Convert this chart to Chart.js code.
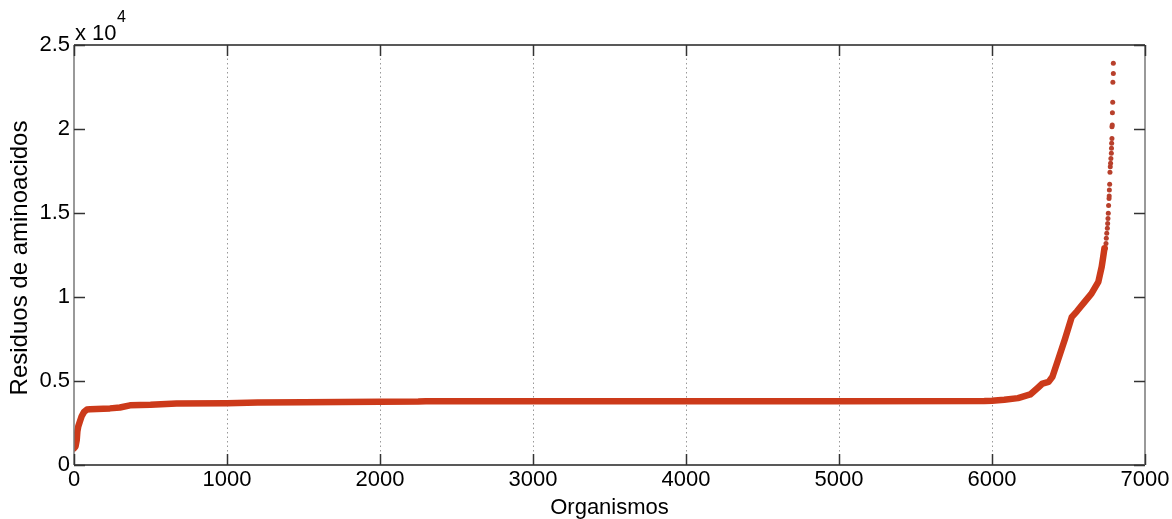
<!DOCTYPE html>
<html>
<head>
<meta charset="utf-8">
<title>Residuos de aminoacidos</title>
<script src="https://cdn.jsdelivr.net/npm/chart.js@4/dist/chart.umd.min.js"></script>
<style>
  html, body { margin: 0; padding: 0; background: #fff; }
  #wrap { width: 1172px; height: 519px; position: relative; }
</style>
</head>
<body>
<div id="wrap"><canvas id="cv"></canvas></div>
<script>
(function () {
  'use strict';

  // dense part of the sorted curve
  const orgX = [0, 10, 18, 22, 28, 39, 50, 65, 85, 105, 235, 300, 366, 500, 670, 1000, 1200, 1500, 2000, 2250, 2300,
    3000, 4000, 5000, 5950, 6000, 6080, 6170, 6250, 6300, 6330, 6370, 6395, 6430, 6477, 6521, 6555, 6600, 6650,
    6695, 6717, 6727, 6735];
  const resY = [1000, 1100, 1500, 2000, 2300, 2600, 2900, 3150, 3300, 3320, 3370, 3420, 3550, 3580, 3660, 3680, 3720,
    3730, 3760, 3780, 3800, 3800, 3800, 3800, 3810, 3830, 3880, 3980, 4200, 4600, 4850, 4950, 5250, 6200, 7500, 8800,
    9150, 9650, 10200, 10900, 11800, 12400, 12900];

  // sparse markers at the top end
  const topX = [6741, 6745, 6747, 6750, 6754, 6756, 6758, 6760, 6762, 6765, 6766, 6767, 6769, 6771, 6773, 6775, 6777,
    6780, 6781, 6782, 6784, 6784, 6786, 6787, 6789, 6790, 6793, 6793];
  const topY = [12900, 13190, 13490, 13790, 14090, 14380, 14680, 14980, 15440, 15870, 16010, 16370, 16710, 17420, 17760,
    17960, 18250, 18550, 18850, 19150, 19440, 20140, 20240, 20970, 21590, 22780, 23310, 23910];

  const xTicks = [0, 1000, 2000, 3000, 4000, 5000, 6000, 7000];
  const yTicks = [0, 5000, 10000, 15000, 20000, 25000];

  const FONT = 'Liberation Sans, Arial, sans-serif';
  const RED = '#cc3a1a';

  const axisPlugin = {
    id: 'matlabBox',
    afterDraw(chart) {
      const c = chart.ctx, a = chart.chartArea;
      const sx = chart.scales.x, sy = chart.scales.y;
      c.save();
      c.lineWidth = 1.5;
      // box
      c.strokeStyle = '#222';
      c.beginPath(); c.moveTo(a.left, a.top); c.lineTo(a.right, a.top); c.stroke();
      c.beginPath(); c.moveTo(a.left, a.bottom); c.lineTo(a.right, a.bottom); c.stroke();
      c.strokeStyle = '#777';
      c.beginPath(); c.moveTo(a.left, a.top); c.lineTo(a.left, a.bottom); c.stroke();
      c.beginPath(); c.moveTo(a.right, a.top); c.lineTo(a.right, a.bottom); c.stroke();
      // inward ticks
      const L = 11;
      c.strokeStyle = '#333';
      xTicks.forEach((v) => {
        const px = Math.round(sx.getPixelForValue(v)) + 0.5;
        c.beginPath(); c.moveTo(px, a.bottom); c.lineTo(px, a.bottom - L); c.stroke();
        c.beginPath(); c.moveTo(px, a.top); c.lineTo(px, a.top + L); c.stroke();
      });
      yTicks.forEach((v) => {
        const py = Math.round(sy.getPixelForValue(v)) + 0.5;
        c.beginPath(); c.moveTo(a.left, py); c.lineTo(a.left + L, py); c.stroke();
        c.beginPath(); c.moveTo(a.right, py); c.lineTo(a.right - L, py); c.stroke();
      });
      // exponent label
      c.fillStyle = '#000';
      c.textBaseline = 'alphabetic';
      c.textAlign = 'left';
      c.font = '22px ' + FONT;
      c.fillText('x 10', 75, 40);
      c.font = '16px ' + FONT;
      c.fillText('4', 117, 22);
      // titles
      c.font = '22px ' + FONT;
      c.textAlign = 'center';
      c.textBaseline = 'middle';
      c.fillText('Organismos', (a.left + a.right) / 2, 508);
      c.font = '24px ' + FONT;
      c.translate(20, 258);
      c.rotate(-Math.PI / 2);
      c.fillText('Residuos de aminoacidos', 0, 0);
      c.restore();
    }
  };

  new Chart(document.getElementById('cv'), {
    type: 'scatter',
    data: {
      datasets: [
        {
          data: orgX.map((x, i) => ({ x, y: resY[i] })),
          showLine: true,
          borderColor: RED,
          borderWidth: 6.5,
          borderCapStyle: 'round',
          borderJoinStyle: 'round',
          pointRadius: 0,
          tension: 0,
        },
        {
          data: topX.map((x, i) => ({ x, y: topY[i] })),
          showLine: false,
          pointRadius: 2.5,
          pointBackgroundColor: '#b8402c',
          pointBorderWidth: 0,
        },
      ],
    },
    options: {
      responsive: true,
      maintainAspectRatio: false,
      animation: false,
      layout: { padding: { top: 45, right: 27, left: 0, bottom: 0 } },
      plugins: { legend: { display: false }, tooltip: { enabled: false } },
      scales: {
        x: {
          type: 'linear', min: 0, max: 7000,
          afterFit: (s) => { s.height = 54; },
          afterBuildTicks: (s) => { s.ticks = xTicks.map((v) => ({ value: v })); },
          ticks: { color: '#000', font: { family: FONT, size: 22 }, padding: 2, maxRotation: 0, callback: (v) => String(v) },
          grid: {
            drawTicks: false,
            color: (ctx) => (ctx.tick && (ctx.tick.value === 0 || ctx.tick.value === 7000)) ? 'rgba(0,0,0,0)' : '#999',
            lineWidth: 1,
          },
          border: { display: false, dash: [1.5, 3] },
        },
        y: {
          type: 'linear', min: 0, max: 25000,
          afterFit: (s) => { s.width = 74; },
          afterBuildTicks: (s) => { s.ticks = yTicks.map((v) => ({ value: v })); },
          ticks: { color: '#000', font: { family: FONT, size: 22 }, padding: 4, callback: (v) => String(v / 10000) },
          grid: { display: false, drawTicks: false },
          border: { display: false },
        },
      },
    },
    plugins: [axisPlugin],
  });
})();
</script>
</body>
</html>
